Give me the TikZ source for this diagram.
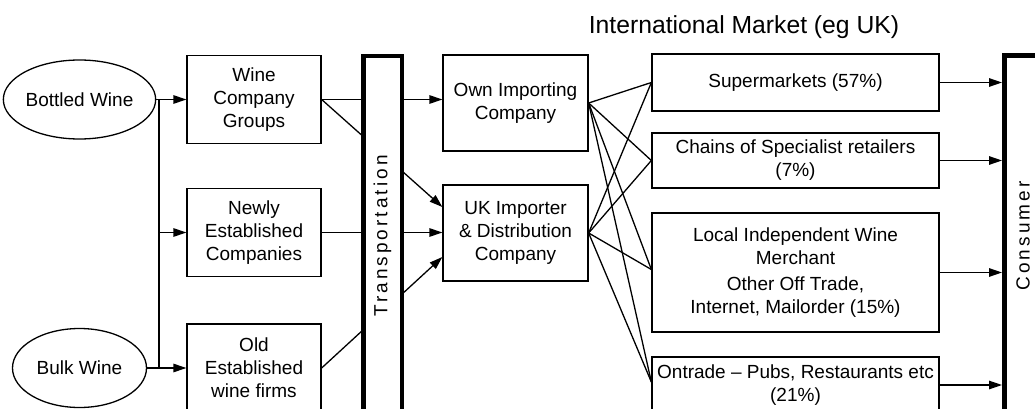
\documentclass[tikz,border=0pt]{standalone}
\usepackage{fontspec}
\setmainfont{Liberation Sans}
\newfontfamily\spacedfont[LetterSpace=16]{Liberation Sans}
\usetikzlibrary{arrows.meta,shapes.geometric}
\begin{document}
\begin{tikzpicture}[x=1pt,y=-1pt,
  every node/.style={inner sep=0pt},
  lbl/.style={font=\fontsize{19}{23}\selectfont, align=center},
  boxnode/.style={draw, line width=1.3pt, lbl},
  leftbox/.style={boxnode, minimum width=134pt, minimum height=88pt},
  midbox/.style={boxnode, minimum width=145pt, minimum height=96pt},
  rightbox/.style={boxnode, minimum width=287pt},
  oval/.style={ellipse, draw, line width=1.3pt, lbl, minimum width=134pt, minimum height=79pt},
  bar/.style={draw, line width=4.5pt, fill=white, rotate=90,
    font=\spacedfont\fontsize{19}{23}\selectfont},
  link/.style={line width=1.3pt},
  arr/.style={link, -{Triangle[length=13pt,width=8.5pt]}}]
\clip (0,0) rectangle (1035,409);
\fill[white] (0,0) rectangle (1035,409);

% heading
\node[font=\fontsize{24.7}{29}\selectfont] (title) at (744,27) {International Market (eg UK)};

% kinds of wine
\node[oval] (bottled) at (79.5,99.5) {Bottled Wine};
\node[oval] (bulk) at (79.5,368) {Bulk Wine};

% producers
\node[leftbox] (wcg) at (254,99.5) {Wine\\Company\\Groups};
\node[leftbox] (newly) at (254,232.5) {Newly\\Established\\Companies};
\node[leftbox] (oldf) at (254,368) {Old\\Established\\wine firms};

% importers
\node[midbox] (own) at (515.5,103) {Own Importing\\Company};
\node[midbox] (uk) at (515.5,233) {UK Importer\\\& Distribution\\Company};

% retail channels
\node[rightbox, minimum height=57pt] (super) at (795.5,82.5) {Supermarkets (57\%)};
\node[rightbox, minimum height=55pt] (chains) at (795.5,160.5) {Chains of Specialist retailers\\(7\%)};
\node[rightbox, minimum height=119pt] (local) at (795.5,272.5)
  {Local Independent Wine\\Merchant\\[3pt]Other Off Trade,\\Internet, Mailorder (15\%)};
\node[rightbox, minimum height=56pt] (ontrade) at (795.5,385) {Ontrade – Pubs, Restaurants etc\\(21\%)};

% wine to producers
\coordinate (jt) at (159,99.5);
\coordinate (jb) at (159,368);
\draw[arr] (bottled.east) -- (wcg.west);
\draw[arr] (bulk.east) -- (oldf.west);
\draw[link] (jt) -- (jb);
\draw[arr] (jt |- newly.west) -- (newly.west);

% producers to importers (passing behind the transport bar)
\draw[arr] (wcg.east) -- (wcg.east -| own.west);
\draw[arr] (wcg.east) -- ([yshift=26pt]uk.west);
\draw[arr] (newly.east) -- (newly.east -| uk.west);
\draw[arr] (oldf.east) -- ([yshift=-24pt]uk.west);

\node[bar, minimum width=359.5pt, minimum height=38.5pt] (trans) at (382.5,236) {Transportation};

% importers to retail channels
\foreach \s in {own,uk}{
  \draw[link] (\s.east) -- (super.west);
  \draw[link] (\s.east) -- (chains.west);
  \draw[link] (\s.east) -- ([yshift=3pt]local.west);
  \draw[link] (\s.east) -- ([yshift=3pt]ontrade.west);
}

% retail channels to consumer
\node[bar, minimum width=361pt, minimum height=37.5pt] (cons) at (1023,236) {Consumer};
\foreach \t in {super,chains,local,ontrade}{
  \draw[arr] (\t.east) -- (\t.east -| cons.north);
}
\end{tikzpicture}
\end{document}
